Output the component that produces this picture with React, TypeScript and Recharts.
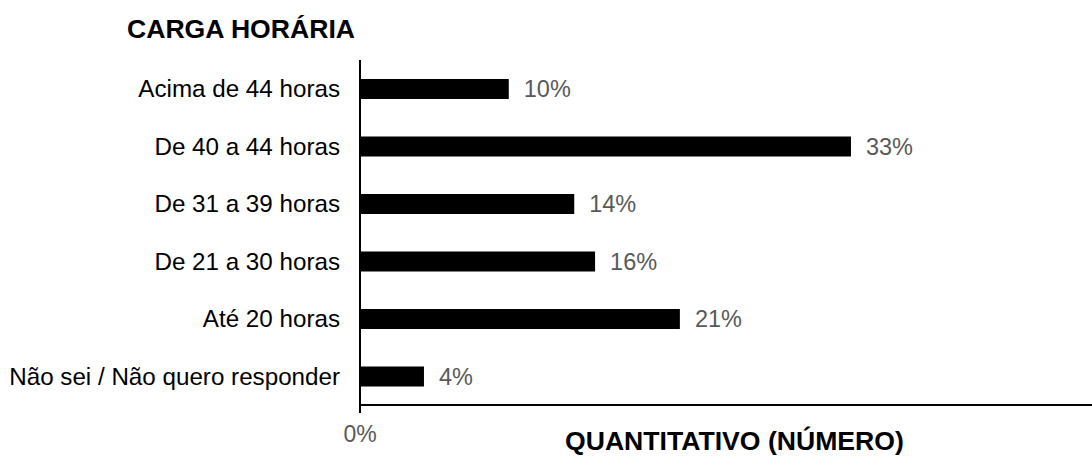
import React from "react";
import { BarChart, Bar, XAxis, YAxis, LabelList } from "recharts";

const categories = [
  "Acima de 44 horas",
  "De 40 a 44 horas",
  "De 31 a 39 horas",
  "De 21 a 30 horas",
  "Até 20 horas",
  "Não sei / Não quero responder",
];
const values = [10.0, 33.0, 14.4, 15.8, 21.5, 4.3];
const valueLabels = ["10%", "33%", "14%", "16%", "21%", "4%"];
const xTicks = [0];

const data = categories.map((name, i) => ({ name, value: values[i], label: valueLabels[i] }));

const FONT = '"Liberation Sans", Arial, sans-serif';

export default function App() {
  return (
    <div style={{ position: "absolute", left: 0, top: 0, width: 1092, height: 465, background: "#fff", fontFamily: FONT }}>
      <BarChart
        width={1092}
        height={465}
        data={data}
        layout="vertical"
        margin={{ top: 60, right: 0, bottom: 0, left: 0 }}
        barCategoryGap={0}
      >
        <XAxis
          type="number"
          domain={[0, 49.2]}
          ticks={xTicks}
          tickFormatter={(v: number) => `${v}%`}
          axisLine={{ stroke: "#000", strokeWidth: 2 }}
          tickLine={{ stroke: "#000", strokeWidth: 2 }}
          tickSize={8}
          tickMargin={13}
          height={60}
          tick={{ fill: "#595959", fontSize: 23, fontFamily: FONT }}
        />
        <YAxis
          type="category"
          dataKey="name"
          width={360}
          axisLine={{ stroke: "#000", strokeWidth: 2 }}
          tickLine={false}
          tickSize={0}
          tickMargin={20}
          interval={0}
          tick={{ fill: "#000", fontSize: 24.2, fontFamily: FONT }}
        />
        <Bar dataKey="value" fill="#000" barSize={20} isAnimationActive={false}>
          <LabelList
            dataKey="label"
            position="right"
            offset={15}
            fill="#595959"
            fontSize={23.5}
            fontFamily={FONT}
          />
        </Bar>
      </BarChart>
      <div style={{ position: "absolute", left: 127, top: 16, fontSize: 26.6, lineHeight: 1, fontWeight: "bold", color: "#000", whiteSpace: "nowrap" }}>
        CARGA HORÁRIA
      </div>
      <div style={{ position: "absolute", left: 565, top: 428, fontSize: 26.6, lineHeight: 1, fontWeight: "bold", color: "#000", whiteSpace: "nowrap" }}>
        QUANTITATIVO (NÚMERO)
      </div>
    </div>
  );
}
